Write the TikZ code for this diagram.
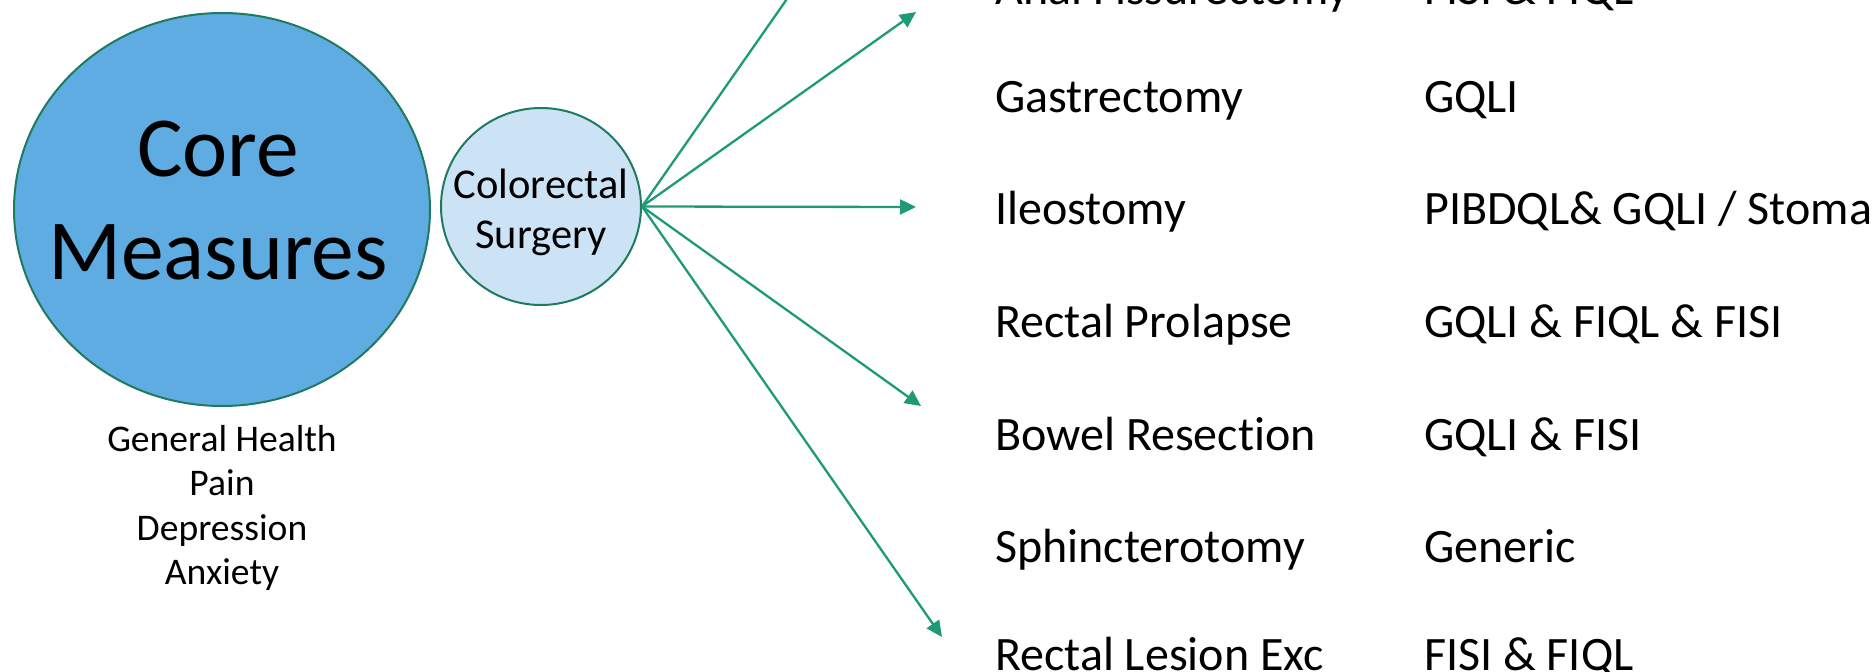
\documentclass[tikz,border=0pt]{standalone}
\usepackage{fontspec}
\setmainfont{Carlito}[Ligatures=NoCommon]
\usetikzlibrary{arrows.meta,shapes.geometric}
\definecolor{bigfill}{RGB}{94,172,226}
\definecolor{smallfill}{RGB}{204,227,245}
\definecolor{outl}{RGB}{31,122,95}
\definecolor{arr}{RGB}{30,155,118}
\begin{document}
\begin{tikzpicture}[x=1pt,y=-1pt,
  bubble/.style={ellipse, draw=outl, line width=2pt, inner sep=0pt},
  conn/.style={draw=arr, line width=2.3pt, -{Triangle[length=16pt,width=15pt]}},
  rowlabel/.style={anchor=base west, inner sep=0pt, font=\fontsize{48}{56}\selectfont},
  plain/.style={align=center, inner sep=0pt}
]
\useasboundingbox (0,0) rectangle (1875,672);
\clip (0,0) rectangle (1875,672);
\node[bubble, fill=bigfill, minimum width=416pt, minimum height=393pt] (core) at (222,209.5) {};
\node[plain, font=\fontsize{85.5}{103}\selectfont] (coretxt) at (218,201) {Core\\Measures};
\node[bubble, fill=smallfill, minimum width=200pt, minimum height=197pt] (colo) at (541,206.5) {};
\node[plain, font=\fontsize{42.5}{49.5}\selectfont] (colotxt) at (541,212.5) {Colorectal\\Surgery};
\node[plain, font=\fontsize{37.6}{44.6}\selectfont] (coreitems) at (222,508) {General Health\\Pain\\Depression\\Anxiety};
\coordinate (t1) at (942,-223);
\coordinate (t2) at (916,12);
\coordinate (t3) at (916,207);
\coordinate (t4) at (921,406);
\coordinate (t5) at (942,637);
\foreach \i in {1,...,5} \draw[conn] (colo.east) -- (t\i);
\node[rowlabel] (p0) at (995,4) {Anal Fissurectomy};
\node[rowlabel] (m0) at (1424,4) {FISI \& FIQL};
\node[rowlabel] (p1) at (995,112) {Gastrectomy};
\node[rowlabel] (m1) at (1424,112) {GQLI};
\node[rowlabel] (p2) at (995,224.5) {Ileostomy};
\node[rowlabel] (m2) at (1424,224.5) {PIBDQL\& GQLI / Stoma};
\node[rowlabel] (p3) at (995,337) {Rectal Prolapse};
\node[rowlabel] (m3) at (1424,337) {GQLI \& FIQL \& FISI};
\node[rowlabel] (p4) at (995,450) {Bowel Resection};
\node[rowlabel] (m4) at (1424,450) {GQLI \& FISI};
\node[rowlabel] (p5) at (995,562) {Sphincterotomy};
\node[rowlabel] (m5) at (1424,562) {Generic};
\node[rowlabel] (p6) at (995,670) {Rectal Lesion Exc};
\node[rowlabel] (m6) at (1424,670) {FISI \& FIQL};
\end{tikzpicture}
\end{document}
